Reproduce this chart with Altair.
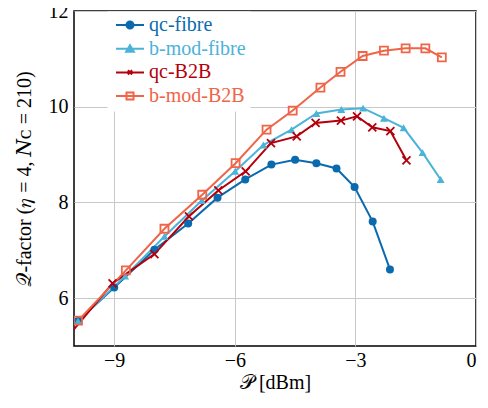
import altair as alt
import pandas as pd

series_names = ["qc-fibre", "b-mod-fibre", "qc-B2B", "b-mod-B2B"]
series_colors = ["#0a6aae", "#4bb2d8", "#b3000c", "#ef6548"]

qc_fibre_x = [-9.9, -9.0, -8.0, -7.16, -6.43, -5.74, -5.09, -4.5, -3.97, -3.47, -3.02, -2.57, -2.14]
qc_fibre_y = [5.52, 6.22, 7.01, 7.56, 8.10, 8.48, 8.79, 8.89, 8.82, 8.71, 8.32, 7.60, 6.60]

b_mod_fibre_x = [-9.9, -8.73, -7.75, -6.82, -5.99, -5.29, -4.59, -3.97, -3.35, -2.81, -2.29, -1.80, -1.33, -0.88]
b_mod_fibre_y = [5.52, 6.46, 7.29, 8.04, 8.65, 9.20, 9.52, 9.86, 9.94, 9.97, 9.76, 9.56, 9.04, 8.48]

qc_b2b_x = [-10.2, -9.04, -8.0, -7.14, -6.41, -5.73, -5.10, -4.46, -3.99, -3.36, -2.96, -2.58, -2.13, -1.73]
qc_b2b_y = [5.15, 6.31, 6.92, 7.71, 8.25, 8.65, 9.24, 9.38, 9.66, 9.71, 9.80, 9.57, 9.49, 8.88]

b_mod_b2b_x = [-9.9, -8.71, -7.75, -6.81, -5.98, -5.21, -4.56, -3.87, -3.37, -2.82, -2.29, -1.75, -1.26, -0.85]
b_mod_b2b_y = [5.53, 6.58, 7.45, 8.16, 8.82, 9.52, 9.92, 10.40, 10.73, 11.06, 11.17, 11.22, 11.22, 11.03]

x_ticks = [-9, -6, -3, 0]
y_ticks = [6, 8, 10, 12]

rows = []
for name, xs, ys in [
    ("qc-fibre", qc_fibre_x, qc_fibre_y),
    ("b-mod-fibre", b_mod_fibre_x, b_mod_fibre_y),
    ("qc-B2B", qc_b2b_x, qc_b2b_y),
    ("b-mod-B2B", b_mod_b2b_x, b_mod_b2b_y),
]:
    for i, (x, y) in enumerate(zip(xs, ys)):
        rows.append({"series": name, "P": x, "Q": y, "i": i})
df = pd.DataFrame(rows)

FONT = "Liberation Serif, DejaVu Serif, DejaVu Sans"

x_enc = alt.X("P:Q", scale=alt.Scale(domain=[-10, 0], nice=False, zero=False),
              axis=alt.Axis(values=x_ticks, title="𝒫 [dBm]", grid=True, ticks=False,
                            domain=False, labelPadding=4, titlePadding=2, format="d"))
y_enc = alt.Y("Q:Q", scale=alt.Scale(domain=[5, 12], nice=False, zero=False),
              axis=alt.Axis(values=y_ticks, title="𝒬-factor (𝜂 = 4,  𝑁ᴄ = 210)", grid=True,
                            ticks=False, domain=False, labelPadding=6, titlePadding=14))
color_enc = alt.Color("series:N", scale=alt.Scale(domain=series_names, range=series_colors), legend=None)

base = alt.Chart(df)

lines = base.mark_line(strokeWidth=2, clip=True).encode(
    x=x_enc, y=y_enc, color=color_enc, order="i:Q"
)

shape_scale = alt.Scale(domain=series_names,
                        range=["circle", "triangle-up", "M-1,-1L1,1M-1,1L1,-1", "square"])
size_scale = alt.Scale(domain=series_names, range=[64, 64, 36, 60])

filled_pts = base.transform_filter(
    alt.FieldOneOfPredicate(field="series", oneOf=["qc-fibre", "b-mod-fibre"])
).mark_point(filled=True, opacity=1, clip=True).encode(
    x=x_enc, y=y_enc, color=color_enc,
    shape=alt.Shape("series:N", scale=shape_scale, legend=None),
    size=alt.Size("series:N", scale=size_scale, legend=None),
)

open_pts = base.transform_filter(
    alt.FieldOneOfPredicate(field="series", oneOf=["qc-B2B", "b-mod-B2B"])
).mark_point(filled=False, opacity=1, strokeWidth=1.8, clip=True).encode(
    x=x_enc, y=y_enc, color=color_enc,
    shape=alt.Shape("series:N", scale=shape_scale, legend=None),
    size=alt.Size("series:N", scale=size_scale, legend=None),
)

legend_paths = [
    "M-2,0H2M-0.5,0A0.5,0.5,0,1,1,0.5,0A0.5,0.5,0,1,1,-0.5,0Z",
    "M-2,0H2M0,-0.5L0.55,0.42L-0.55,0.42Z",
    "M-2,0H2M-0.3,-0.3L0.3,0.3M-0.3,0.3L0.3,-0.3",
    "M-2,0H2M-0.5,-0.5H0.5V0.5H-0.5Z",
]

legend_layer = base.transform_filter("false").mark_point(filled=True).encode(
    x=x_enc, y=y_enc, color=color_enc,
    shape=alt.Shape("series:N",
                    scale=alt.Scale(domain=series_names, range=legend_paths),
                    legend=alt.Legend(
                        title=None, orient="none", legendX=33, legendY=0,
                        fillColor="white", strokeColor="transparent", padding=4,
                        symbolSize=196, symbolStrokeWidth=2, symbolOffset=9,
                        symbolOpacity=1,
                        labelOffset=9, rowPadding=3.7,
                        labelFont=FONT, labelFontSize=20,
                        labelColor=alt.ExprRef("scale('color', datum.value)"),
                        symbolStrokeColor=alt.ExprRef("scale('color', datum.value)"),
                        symbolFillColor=alt.ExprRef(
                            "indexof(['qc-B2B','b-mod-B2B'], datum.value) >= 0 ? 'transparent' : scale('color', datum.value)"),
                    )),
)

chart = alt.layer(lines, filled_pts, open_pts, legend_layer).resolve_scale(
    shape="independent", size="independent"
).properties(
    width=402, height=335,
    autosize=alt.AutoSizeParams(type="none"),
    padding={"left": 66, "top": 3, "right": 4, "bottom": 52},
).configure_view(
    stroke="black", strokeWidth=1.5
).configure_axis(
    labelFont=FONT, titleFont=FONT, labelFontSize=20, titleFontSize=20,
    labelColor="black", titleColor="black", titleFontWeight="normal",
    gridColor="#c8c8c8", gridWidth=1,
)

chart.save("out.html", embed_options={"renderer": "svg", "actions": False})
